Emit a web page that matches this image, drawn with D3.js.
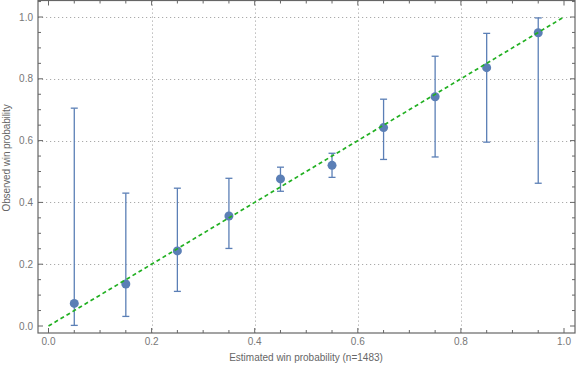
<!DOCTYPE html>
<html><head><meta charset="utf-8">
<script src="https://cdn.jsdelivr.net/npm/d3@7"></script>
<style>body{margin:0;background:#fff}svg{display:block}text{font-family:"Liberation Sans",Arial,sans-serif}</style>
</head><body>
<script>
const binCenters = [0.05,0.15,0.25,0.35,0.45,0.55,0.65,0.75,0.85,0.95];
const observed   = [0.073,0.136,0.243,0.356,0.476,0.520,0.642,0.742,0.836,0.949];
const lower      = [0.002,0.031,0.112,0.251,0.436,0.481,0.539,0.547,0.595,0.462];
const upper      = [0.705,0.430,0.446,0.478,0.514,0.559,0.734,0.873,0.947,0.997];
const majorTicks = [0,0.2,0.4,0.6,0.8,1.0];
const gridX = [0.2,0.4,0.6,0.8];
const gridY = [0.2,0.4,0.6,0.8,1.0];
const xTitle = "Estimated win probability (n=1483)";
const yTitle = "Observed win probability";

const W=576,H=369;
const L=38,R=575,T=0.5,B=333;
const x=d3.scaleLinear().domain([0,1]).range([48.5,564]);
const y=d3.scaleLinear().domain([0,1]).range([326,17]);
const svg=d3.select("body").append("svg").attr("width",W).attr("height",H);

const minorTicks=d3.range(0,21).map(i=>i*0.05).filter(v=>x(v)<=R && x(v)>=L);
const minorTicksY=d3.range(0,21).map(i=>i*0.05).filter(v=>y(v)>=T && y(v)<=B);
const extraX=[-0.05,1.05].filter(v=>x(v)>L&&x(v)<R);
const extraY=[-0.05,1.05].filter(v=>y(v)>T&&y(v)<B);

const grid=svg.append("g").attr("stroke","#aaa").attr("stroke-width",1).attr("stroke-dasharray","1.2,2.8");
grid.selectAll("line.gx").data(gridX).join("line").attr("x1",d=>Math.round(x(d))+0.5).attr("x2",d=>Math.round(x(d))+0.5).attr("y1",T).attr("y2",B);
grid.selectAll("line.gy").data(gridY).join("line").attr("y1",d=>Math.round(y(d))+0.5).attr("y2",d=>Math.round(y(d))+0.5).attr("x1",L).attr("x2",R);

const fc="#666";
svg.append("rect").attr("x",L).attr("y",T).attr("width",R-L).attr("height",B-T).attr("fill","none").attr("stroke",fc).attr("stroke-width",1.2);
const tg=svg.append("g").attr("stroke",fc).attr("stroke-width",1);
const allX=minorTicks.concat(extraX);
const allY=minorTicksY.concat(extraY);
const isMajor=v=>Math.abs(v*5-Math.round(v*5))<1e-6 && v>=-1e-9 && v<=1+1e-9;
tg.selectAll("line.bx").data(allX).join("line").attr("x1",d=>x(d)).attr("x2",d=>x(d)).attr("y1",B).attr("y2",d=>B-(isMajor(d)?5:3));
tg.selectAll("line.tx").data(allX).join("line").attr("x1",d=>x(d)).attr("x2",d=>x(d)).attr("y1",T).attr("y2",d=>T+(isMajor(d)?5:3));
tg.selectAll("line.ly").data(allY).join("line").attr("y1",d=>y(d)).attr("y2",d=>y(d)).attr("x1",L).attr("x2",d=>L+(isMajor(d)?5:3));
tg.selectAll("line.ry").data(allY).join("line").attr("y1",d=>y(d)).attr("y2",d=>y(d)).attr("x1",R).attr("x2",d=>R-(isMajor(d)?5:3));

const fmt=d3.format(".1f");
svg.selectAll("text.xl").data(majorTicks).join("text").attr("x",d=>x(d)).attr("y",345).attr("text-anchor","middle").attr("font-size",10).attr("fill","#777").text(fmt);
svg.selectAll("text.yl").data(majorTicks).join("text").attr("x",33).attr("y",d=>y(d)+3.5).attr("text-anchor","end").attr("font-size",10).attr("fill","#777").text(fmt);

svg.append("text").attr("x",306).attr("y",361).attr("text-anchor","middle").attr("font-size",10).attr("fill","#666").text(xTitle);
svg.append("text").attr("transform","translate(10,158) rotate(-90)").attr("text-anchor","middle").attr("font-size",10).attr("fill","#666").attr("letter-spacing",-0.1).text(yTitle);

const col="#5b7fb6";
const data=binCenters.map((c,i)=>({c,o:observed[i],lo:lower[i],hi:upper[i]}));
const eb=svg.append("g").attr("stroke",col).attr("stroke-width",1.3);
eb.selectAll("line.v").data(data).join("line").attr("x1",d=>x(d.c)).attr("x2",d=>x(d.c)).attr("y1",d=>y(d.lo)).attr("y2",d=>y(d.hi));
eb.selectAll("line.t").data(data).join("line").attr("x1",d=>x(d.c)-3.5).attr("x2",d=>x(d.c)+3.5).attr("y1",d=>y(d.hi)).attr("y2",d=>y(d.hi));
eb.selectAll("line.b").data(data).join("line").attr("x1",d=>x(d.c)-3.5).attr("x2",d=>x(d.c)+3.5).attr("y1",d=>y(d.lo)).attr("y2",d=>y(d.lo));
svg.selectAll("circle").data(data).join("circle").attr("cx",d=>x(d.c)).attr("cy",d=>y(d.o)).attr("r",4.5).attr("fill",col);

// diagonal drawn on top
svg.append("line").attr("x1",x(0)).attr("y1",y(0)).attr("x2",x(1)).attr("y2",y(1)).attr("stroke","#22b022").attr("stroke-width",1.7).attr("stroke-dasharray","4,3");
</script>
</body></html>
